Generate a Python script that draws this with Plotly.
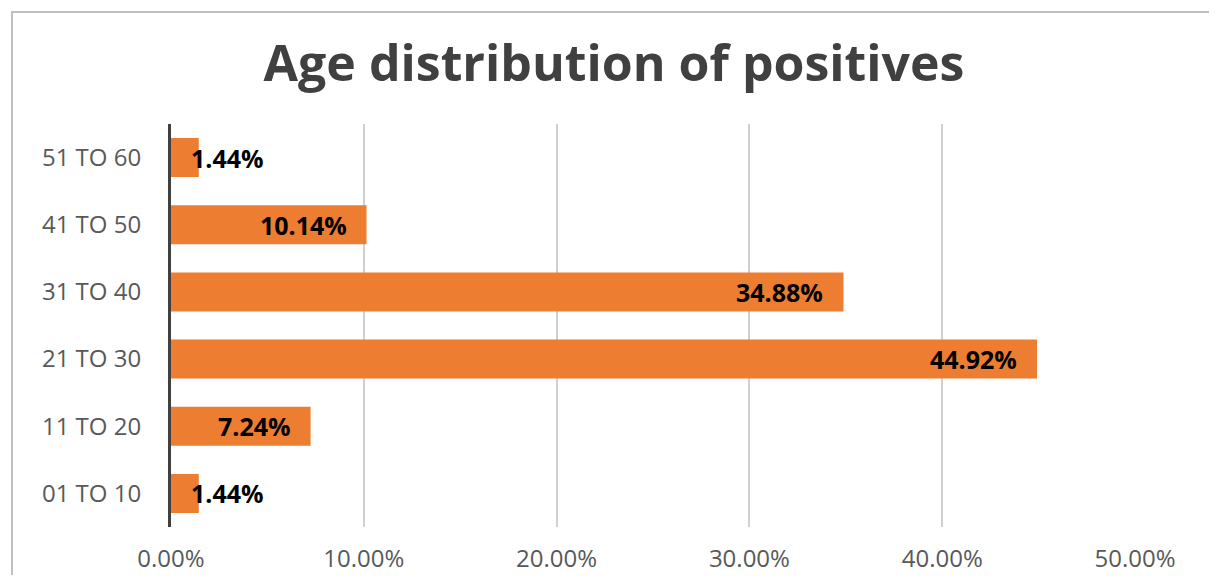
import plotly.graph_objects as go

categories = ["01 TO 10", "11 TO 20", "21 TO 30", "31 TO 40", "41 TO 50", "51 TO 60"]
values = [1.44, 7.24, 44.92, 34.88, 10.14, 1.44]
tick_vals = [0, 10, 20, 30, 40, 50]
tick_text = ["0.00%", "10.00%", "20.00%", "30.00%", "40.00%", "50.00%"]
title_text = "Age distribution of positives"

OFF = 8  # browser default body margin
W, H = 1217 - OFF, 583 - 2 * OFF
L, R, T, B = 171 - OFF, 1135 - OFF, 124 - OFF, 527 - OFF

fig = go.Figure()
fig.add_trace(go.Bar(
    x=values, y=categories, orientation="h",
    marker=dict(color="#ED7D31", line=dict(width=0)),
    width=0.58, hoverinfo="x+y",
))

label_font = dict(family="Open Sans", size=25, color="#000000")
annotations = []
for c, v in zip(categories, values):
    label = f"<b>{v:.2f}%</b>"
    if v >= 5:
        annotations.append(dict(x=v, y=c, xref="x", yref="y", text=label,
                                showarrow=False, xanchor="right", xshift=-18,
                                font=label_font))
    else:
        annotations.append(dict(x=0, y=c, xref="x", yref="y", text=label,
                                showarrow=False, xanchor="left", xshift=18,
                                font=label_font))

pw, ph = R - L, B - T
border = dict(type="rect", xref="paper", yref="paper",
              x0=(12 - OFF - L) / pw, x1=(1214 - OFF - L) / pw,
              y0=(B - 640) / ph, y1=(B - (12 - OFF)) / ph,
              line=dict(color="#BFBFBF", width=2), fillcolor="rgba(0,0,0,0)", layer="below")

fig.update_layout(
    width=W, height=H,
    margin=dict(l=L, r=W - R, t=T, b=H - B, pad=0, autoexpand=False),
    paper_bgcolor="white", plot_bgcolor="white",
    showlegend=False,
    title=dict(text=f"<b>{title_text}</b>", x=(614 - OFF) / W, xanchor="center",
               y=1 - (63 - OFF) / H, yanchor="middle",
               font=dict(family="Open Sans", size=50, color="#404040")),
    xaxis=dict(range=[0, 50], tickvals=tick_vals, ticktext=tick_text,
               showgrid=True, gridcolor="#D0D0D0", gridwidth=2,
               zeroline=False, showline=False, ticks="",
               ticklabelstandoff=15, automargin=False,
               tickfont=dict(family="Open Sans", size=24, color="#595959"),
               fixedrange=True),
    yaxis=dict(categoryorder="array", categoryarray=categories,
               showgrid=False, zeroline=False, showline=True,
               linecolor="#404040", linewidth=3, ticks="",
               ticklabelstandoff=22, automargin=False,
               tickfont=dict(family="Open Sans", size=24, color="#595959"),
               range=[-0.5, 5.5], fixedrange=True),
    shapes=[border],
    annotations=annotations,
    bargap=0.42,
)

fig.write_html("out.html")
